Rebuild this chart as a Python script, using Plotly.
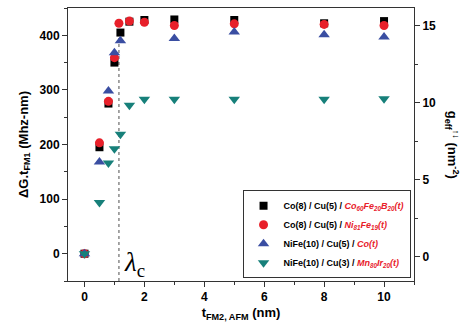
import plotly.graph_objects as go

# ---- data ----
cofeb_x = [0, 0.5, 0.8, 1.0, 1.2, 1.5, 2, 3, 5, 8, 10]
cofeb_y = [0, 195, 275, 350, 405, 425, 428, 429, 428, 422, 426]

nife_x = [0, 0.5, 0.8, 1.0, 1.15, 1.5, 2, 3, 5, 8, 10]
nife_y = [0, 203, 279, 359, 422, 426, 424, 418, 421, 420, 418]

co_x = [0, 0.5, 0.8, 1.0, 1.2, 3, 5, 8, 10]
co_y = [0, 168, 298, 368, 390, 394, 406, 401, 397]

mnir_x = [0, 0.5, 0.8, 1.0, 1.2, 1.5, 2, 3, 5, 8, 10]
mnir_y = [0, 94, 166, 192, 219, 272, 283, 283, 283, 283, 284]

lambda_c = 1.15
lambda_line_y = [-50, 405]

x_ticks = [0, 2, 4, 6, 8, 10]
y_ticks = [0, 100, 200, 300, 400]
y2_ticks = [0, 5, 10, 15]

RED = "#e8202a"
BLUE = "#3a4ea2"
TEAL = "#17807a"
FONT = "Arial, Liberation Sans, sans-serif"

def red_it(s):
    return f"<span style='color:{RED}'><i>{s}</i></span>"

names = [
    "Co(8) / Cu(5) / " + red_it("Co<sub>60</sub>Fe<sub>20</sub>B<sub>20</sub>(t)"),
    "Co(8) / Cu(5) / " + red_it("Ni<sub>81</sub>Fe<sub>19</sub>(t)"),
    "NiFe(10) / Cu(5) / " + red_it("Co(t)"),
    "NiFe(10) / Cu(3) / " + red_it("Mn<sub>80</sub>Ir<sub>20</sub>(t)"),
]

fig = go.Figure()

fig.add_trace(go.Scatter(x=[lambda_c, lambda_c], y=lambda_line_y, mode="lines",
                         line=dict(color="#777777", width=1.3, dash="dot"),
                         showlegend=False, hoverinfo="skip"))

fig.add_trace(go.Scatter(x=cofeb_x, y=cofeb_y, mode="markers", name=names[0],
                         marker=dict(symbol="square", size=8, color="black")))
fig.add_trace(go.Scatter(x=nife_x, y=nife_y, mode="markers", name=names[1],
                         marker=dict(symbol="circle", size=9, color=RED)))
fig.add_trace(go.Scatter(x=co_x, y=co_y, mode="markers", name=names[2],
                         marker=dict(symbol="triangle-up", size=10, color=BLUE)))
fig.add_trace(go.Scatter(x=mnir_x, y=mnir_y, mode="markers", name=names[3],
                         marker=dict(symbol="triangle-down", size=10, color=TEAL)))
# empty trace to carry the right-hand axis
fig.add_trace(go.Scatter(x=[], y=[], yaxis="y2", showlegend=False, hoverinfo="skip"))

axis_common = dict(
    showline=True, linecolor="#333333", linewidth=1,
    ticks="outside", ticklen=5, tickwidth=1, tickcolor="#333333",
    showgrid=False, zeroline=False,
    tickfont=dict(family=FONT, size=12, color="black", weight="bold"),
)

fig.update_layout(
    width=464, height=326,
    margin=dict(l=68, r=50, t=8, b=45),
    paper_bgcolor="white", plot_bgcolor="white",
    font=dict(family=FONT, color="black"),
    xaxis=dict(**axis_common, range=[-0.55, 11], tickvals=x_ticks, mirror=True,
               minor=dict(ticks="outside", dtick=1, tick0=0, ticklen=3, tickcolor="#333333"),
               title=dict(text="t<sub>FM2, AFM</sub> (nm)", standoff=4,
                          font=dict(family=FONT, size=13, weight="bold"))),
    yaxis=dict(**axis_common, range=[-50, 450], tickvals=y_ticks,
               minor=dict(ticks="outside", dtick=50, tick0=0, ticklen=3, tickcolor="#333333"),
               title=dict(text="ΔG.t<sub>FM1</sub> (Mhz-nm)", standoff=8,
                          font=dict(family=FONT, size=13, weight="bold"))),
    yaxis2=dict(**axis_common, overlaying="y", side="right", range=[-1.58, 16.15],
                tickvals=y2_ticks,
                minor=dict(ticks="outside", dtick=2.5, tick0=0, ticklen=3, tickcolor="#333333")),
    legend=dict(x=0.99, y=0.01, xanchor="right", yanchor="bottom",
                bordercolor="#333333", borderwidth=1, bgcolor="white",
                font=dict(family=FONT, size=9, color="black", weight="bold"),
                tracegroupgap=0, itemwidth=30),
    showlegend=True,
    annotations=[
        dict(text="g<sub>eff</sub><sup>↑↓</sup> (nm<sup>-2</sup>)", textangle=90,
             xref="paper", yref="paper", x=1.112, y=0.5, showarrow=False,
             xanchor="center", yanchor="middle",
             font=dict(family=FONT, size=13, color="black", weight="bold")),
        dict(text="<i>λ</i><sub>c</sub>", xref="x", yref="y", x=1.25, y=-18,
             showarrow=False, xanchor="left", yanchor="middle",
             font=dict(family="Liberation Serif, serif", size=27, color="black")),
    ],
)

fig.write_html("out.html", post_script="document.body.style.margin='0';",
               config={"displayModeBar": False})
